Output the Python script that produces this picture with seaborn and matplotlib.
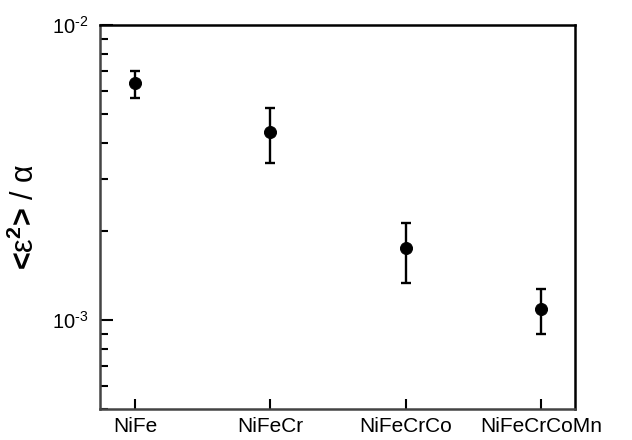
import matplotlib
matplotlib.use("Agg")
import matplotlib.pyplot as plt
import matplotlib.ticker as mticker
import seaborn as sns
import numpy as np
import pandas as pd

categories = ["NiFe", "NiFeCr", "NiFeCrCo", "NiFeCrCoMn"]
values = [6.35e-3, 4.35e-3, 1.75e-3, 1.095e-3]
err_low = [5.65e-3, 3.42e-3, 1.34e-3, 0.90e-3]
err_high = [7.0e-3, 5.25e-3, 2.14e-3, 1.28e-3]

sns.set_style("white")
plt.rcParams['font.family'] = ['Liberation Sans', 'DejaVu Sans']
plt.rcParams['mathtext.fontset'] = 'custom'
plt.rcParams['mathtext.rm'] = 'Liberation Sans'
plt.rcParams['mathtext.it'] = 'Liberation Sans:italic'
plt.rcParams['mathtext.bf'] = 'Liberation Sans:bold'
plt.rcParams['text.color'] = 'black'
plt.rcParams['xtick.color'] = 'black'
plt.rcParams['ytick.color'] = 'black'
plt.rcParams['axes.labelcolor'] = 'black'

df = pd.DataFrame({"pos": np.arange(len(categories)), "val": values,
                   "lo": err_low, "hi": err_high, "cat": categories})

fig = plt.figure(figsize=(6.32, 4.40), dpi=100)
ax = fig.add_axes([0.158, 0.0705, 0.752, 0.8725])

ax.errorbar(df["pos"], df["val"],
            yerr=[df["val"] - df["lo"], df["hi"] - df["val"]],
            fmt="none", ecolor="black", elinewidth=1.7, capsize=3.8, capthick=1.7, zorder=2)
sns.scatterplot(data=df, x="pos", y="val", ax=ax, color="black", s=75,
                edgecolor="black", zorder=3, legend=False)

ax.set_yscale("log")
ax.set_ylim(5e-4, 1e-2)
ax.set_xlim(-0.26, 3.25)
ax.set_xticks(df["pos"])
ax.set_xticklabels(categories, fontsize=15)
ax.set_yticks([1e-3, 1e-2])
ax.set_yticklabels([r"10$^{\text{-3}}$", r"10$^{\text{-2}}$"], fontsize=14.5)
ax.yaxis.set_minor_locator(mticker.LogLocator(base=10, subs=np.arange(2, 10)))
ax.yaxis.set_minor_formatter(mticker.NullFormatter())
ax.tick_params(axis="y", which="major", direction="in", length=9, width=1.5, left=True, right=False, pad=8, colors="black")
ax.tick_params(axis="y", which="minor", direction="in", length=6, width=1.5, left=True, right=False)
ax.tick_params(axis="x", which="major", direction="in", length=7, width=1.5, bottom=True, top=False, pad=6, colors="black")
ax.tick_params(axis="x", which="minor", bottom=False, top=False)

for sp in ax.spines.values():
    sp.set_visible(True)
    sp.set_linewidth(1.8)
    sp.set_color("black")
ax.spines["left"].set_color("#444444")
ax.spines["bottom"].set_color("#444444")

ax.set_xlabel("")
ax.set_ylabel(r"<$\mathrm{ε}^{\mathbf{2}}$> $\mathrm{/}$ $\mathrm{α}$", fontsize=22, fontweight="bold", labelpad=8)

fig.savefig("out.png", dpi=100)
